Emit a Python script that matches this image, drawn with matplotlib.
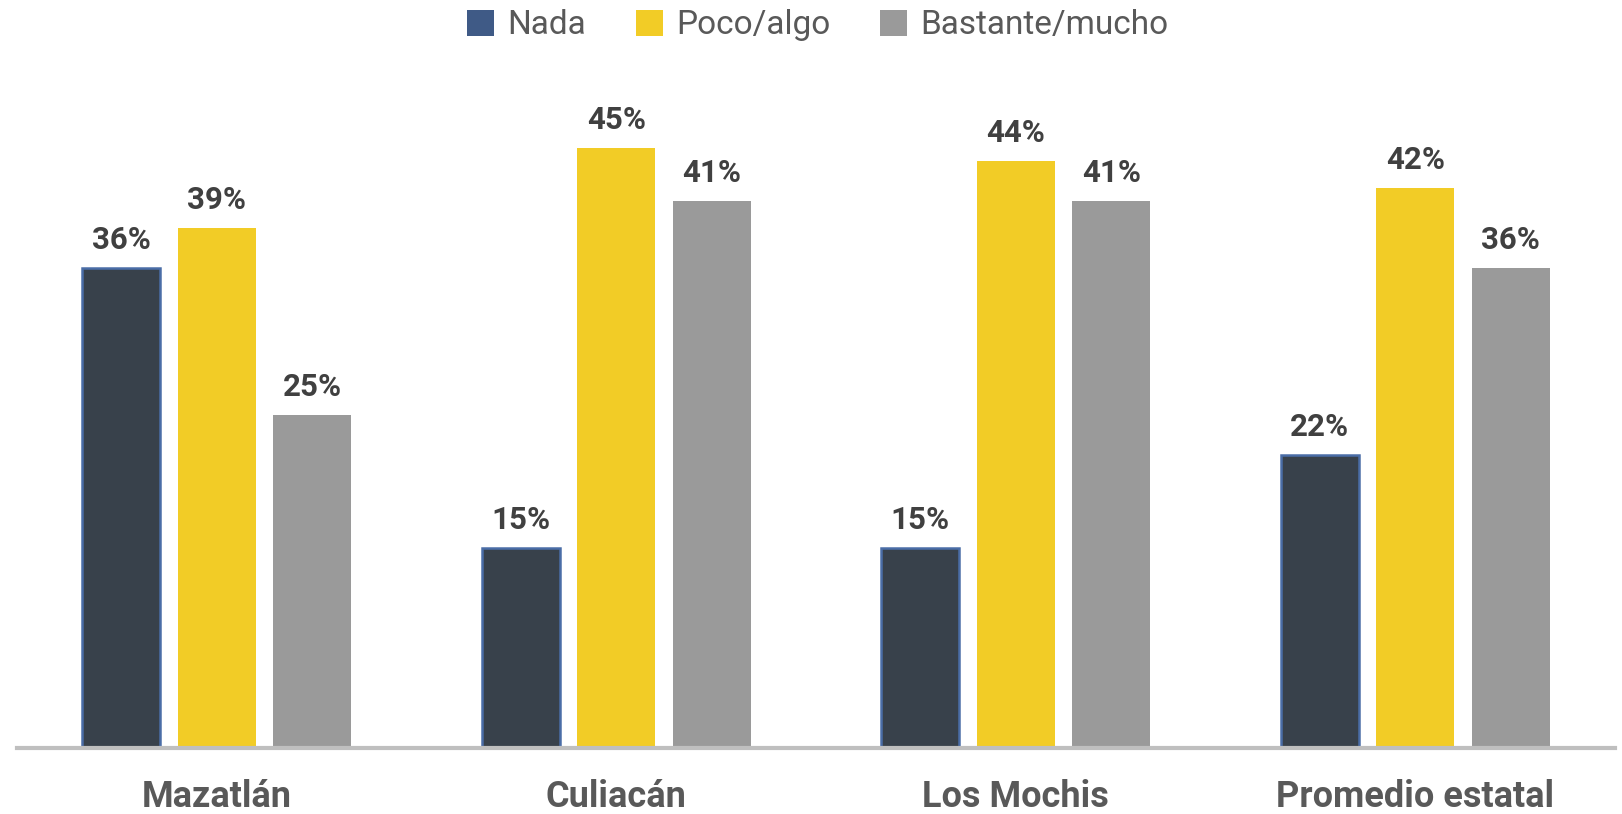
import matplotlib
matplotlib.use("Agg")
import matplotlib.pyplot as plt
import matplotlib.transforms as mtransforms
from matplotlib.patches import Patch
import numpy as np

categories = ["Mazatlán", "Culiacán", "Los Mochis", "Promedio estatal"]
series_names = ["Nada", "Poco/algo", "Bastante/mucho"]
nada = [36, 15, 15, 22]
poco = [39, 45, 44, 42]
bastante = [25, 41, 41, 36]

colors = ["#38414B", "#F2CC26", "#9A9A9A"]
edges = ["#4A6DA7", "#F2CC26", "#9A9A9A"]
legend_colors = ["#3F5A86", "#F2CC26", "#9A9A9A"]

W, H, DPI = 1622, 814, 100
fig = plt.figure(figsize=(W / DPI, H / DPI), dpi=DPI)
ax_left, ax_right = 17 / W, 1615 / W
ax_bottom, ax_top = 1 - 748 / H, 1 - 81.5 / H
ax = fig.add_axes([ax_left, ax_bottom, ax_right - ax_left, ax_top - ax_bottom])

x = np.arange(len(categories))
offset = 0.239
width = 0.195
for i, (vals, name) in enumerate(zip([nada, poco, bastante], series_names)):
    pos = x + (i - 1) * offset
    ax.bar(pos, vals, width, color=colors[i], edgecolor=edges[i],
           linewidth=1.8 if i == 0 else 0, label=name, zorder=2)
    for xp, v in zip(pos, vals):
        ax.annotate(f"{v}%", (xp, v), xytext=(0, 13.8), textcoords="offset points",
                    ha="center", va="baseline", fontsize=22.5, fontweight="bold",
                    color="#404040", family="Roboto")

ax.set_xlim(-0.5, 3.5)
ax.set_ylim(0, 50)
for s in ["top", "right", "left"]:
    ax.spines[s].set_visible(False)
ax.spines["bottom"].set_color("#BFBFBF")
ax.spines["bottom"].set_linewidth(3)
ax.spines["bottom"].set_zorder(3)
ax.set_yticks([])
ax.set_xticks([])

trans = mtransforms.blended_transform_factory(ax.transData, ax.transAxes)
for xi, c in zip(x, categories):
    ax.text(xi, -59 / 666.5, c, transform=trans, ha="center", va="baseline",
            fontsize=26, fontweight="bold", color="#595959", family="Roboto")

handles = [Patch(facecolor=legend_colors[i], edgecolor="none") for i in range(3)]
leg = fig.legend(handles, series_names, loc="upper center", bbox_to_anchor=(818 / W, 1.0 + 4 / H),
                 ncol=3, frameon=False, prop={"family": "Roboto", "size": 24},
                 handlelength=0.8, handleheight=0.85, handletextpad=0.4, columnspacing=1.5,
                 borderaxespad=0)
for t in leg.get_texts():
    t.set_color("#595959")

fig.savefig("out.png", dpi=DPI)
